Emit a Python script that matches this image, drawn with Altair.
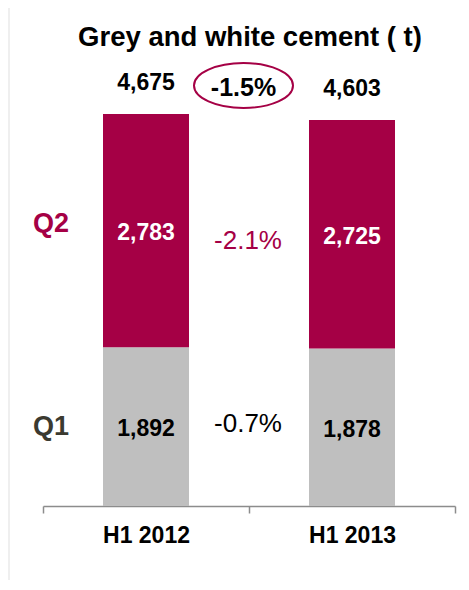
import altair as alt
import pandas as pd

# ---- data ----
periods = ["H1 2012", "H1 2013"]
quarters = ["Q1", "Q2"]
q1_values = [1892, 1878]
q2_values = [2783, 2725]
totals = [4675, 4603]
segment_changes = ["-0.7%", "-2.1%"]   # Q1, Q2
total_change = "-1.5%"
title_text = "Grey and white cement ( t)"

CRIMSON = "#a50045"
GREY = "#bfbfbf"
Q1_TEXT = "#3b3a30"
FONT = "Liberation Sans"

# ---- tables built from the lists ----
rows = []
for i, p in enumerate(periods):
    base = 0
    for k, (q, vals) in enumerate(zip(quarters, [q1_values, q2_values])):
        v = vals[i]
        rows.append(dict(period=p, quarter=q, value=v, order=k, mid=base + v / 2))
        base += v
seg = pd.DataFrame(rows)
tot = pd.DataFrame({"period": periods, "total": totals})
chg = (
    seg.groupby("quarter", as_index=False)["mid"].mean()
    .assign(label=segment_changes, period=periods[1])
)
qlab = seg[seg["period"] == periods[0]].copy()
totchg = pd.DataFrame({"label": [total_change], "period": [periods[1]], "y": [max(totals)]})
title_df = pd.DataFrame({"title": [title_text]})
frame_df = pd.DataFrame({"a": [0]})

xscale = alt.Scale(domain=periods, paddingInner=0, paddingOuter=0)
yscale = alt.Scale(domain=[0, 5295], nice=False)

x_axis = alt.X(
    "period:N", sort=periods, scale=xscale, title=None,
    axis=alt.Axis(
        labelAngle=0, labelFont=FONT, labelFontSize=23, labelFontWeight="bold",
        labelColor="black", labelPadding=11, tickBand="extent", tickSize=7,
        tickColor="#8c8c8c", tickWidth=1.5, domainColor="#8c8c8c", domainWidth=1.5,
        grid=False,
    ),
)
x_plain = alt.X("period:N", sort=periods, scale=xscale, title=None)
x_edge = alt.X("period:N", sort=periods, scale=xscale, title=None, bandPosition=0)

bars = alt.Chart(seg).mark_bar(width=86).encode(
    x=x_axis,
    y=alt.Y("value:Q", stack="zero", scale=yscale, axis=None),
    color=alt.Color("quarter:N", scale=alt.Scale(domain=quarters, range=[GREY, CRIMSON]), legend=None),
    order=alt.Order("order:Q"),
)

seg_text = alt.Chart(seg).mark_text(
    font=FONT, fontSize=23, fontWeight="bold", baseline="alphabetic", dy=9.5
).encode(
    x=x_plain,
    y=alt.Y("mid:Q", scale=yscale),
    text=alt.Text("value:Q", format=","),
    color=alt.condition("datum.quarter == 'Q2'", alt.value("white"), alt.value("black")),
)

tot_text = alt.Chart(tot).mark_text(
    font=FONT, fontSize=23, fontWeight="bold", baseline="alphabetic", dy=-24, color="black"
).encode(
    x=x_plain,
    y=alt.Y("total:Q", scale=yscale),
    text=alt.Text("total:Q", format=","),
)

q2_lab = alt.Chart(qlab).transform_filter("datum.quarter == 'Q2'").mark_text(
    font=FONT, fontSize=27, fontWeight="bold", baseline="alphabetic", dx=8, dy=1.5, color=CRIMSON
).encode(x=x_edge, y=alt.Y("mid:Q", scale=yscale), text="quarter:N")

q1_lab = alt.Chart(qlab).transform_filter("datum.quarter == 'Q1'").mark_text(
    font=FONT, fontSize=27, fontWeight="bold", baseline="alphabetic", dx=8, dy=8.5, color=Q1_TEXT
).encode(x=x_edge, y=alt.Y("mid:Q", scale=yscale), text="quarter:N")

chg_q2 = alt.Chart(chg).transform_filter("datum.quarter == 'Q2'").mark_text(
    font=FONT, fontSize=26, baseline="alphabetic", dx=-1, dy=16.6, color=CRIMSON
).encode(x=x_edge, y=alt.Y("mid:Q", scale=yscale), text="label:N")

chg_q1 = alt.Chart(chg).transform_filter("datum.quarter == 'Q1'").mark_text(
    font=FONT, fontSize=26, baseline="alphabetic", dx=-1, dy=5, color="black"
).encode(x=x_edge, y=alt.Y("mid:Q", scale=yscale), text="label:N")

tc_text = alt.Chart(totchg).mark_text(
    font=FONT, fontSize=25, fontWeight="bold", baseline="alphabetic", dx=-5.5, dy=-18, color="black"
).encode(x=x_edge, y=alt.Y("y:Q", scale=yscale), text="label:N")

ELLIPSE = "M-1,0A1,0.4545,0,1,1,1,0A1,0.4545,0,1,1,-1,0Z"
tc_ellipse = alt.Chart(totchg).mark_point(
    shape=ELLIPSE, size=9801, filled=False, stroke=CRIMSON, strokeWidth=2,
    xOffset=-5.5, yOffset=-28.5, opacity=1,
).encode(x=x_edge, y=alt.Y("y:Q", scale=yscale))

title_mark = alt.Chart(title_df).mark_text(
    font=FONT, fontSize=27.5, fontWeight="bold", baseline="alphabetic", align="center", color="black"
).encode(x=alt.value(207), y=alt.value(-16), text="title:N")

frame = alt.Chart(frame_df).mark_rect(
    fill=None, stroke="#efefef", strokeWidth=2
).encode(
    x=alt.value(-34), x2=alt.value(700), y=alt.value(-55), y2=alt.value(800)
)

chart = alt.layer(
    frame, bars, seg_text, tot_text, q2_lab, q1_lab, chg_q2, chg_q1, tc_ellipse, tc_text, title_mark
).properties(
    width=412, height=444,
    autosize=alt.AutoSizeParams(type="none"),
    padding={"left": 35, "top": 54, "right": 6, "bottom": 74},
).configure_view(stroke=None)

chart.save("out.html", embed_options={"renderer": "svg", "actions": False})
